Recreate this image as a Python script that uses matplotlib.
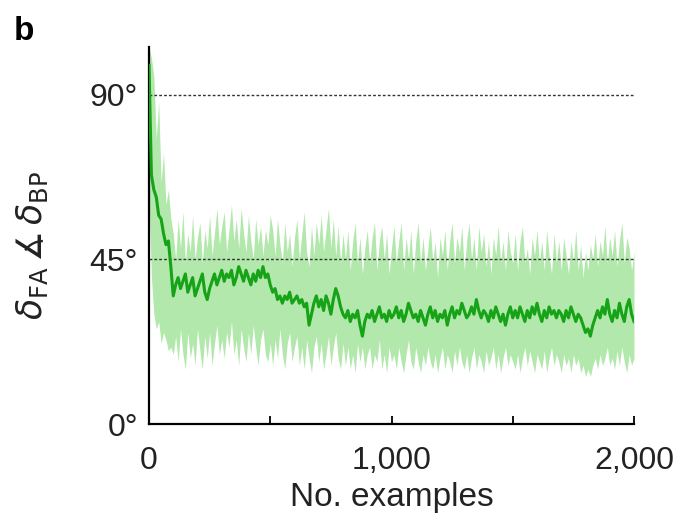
import numpy as np
import matplotlib
matplotlib.use("Agg")
import matplotlib.pyplot as plt

plt.rcParams['font.family'] = ['Liberation Sans', 'DejaVu Sans']

# Number of examples (step 10)
examples = list(range(0, 2001, 10))

# mean angle (degrees)
mean_angle = [
    98, 68, 64, 62, 57, 56, 52, 49, 50, 43, 35,
    38, 40, 37, 39, 41, 36, 38, 40, 35, 37,
    39, 41, 36, 34, 37, 39, 41, 38, 40, 42,
    39, 41, 40, 42, 38, 40, 43, 41, 39, 42,
    40, 38, 41, 39, 42, 40, 43, 40, 41, 38,
    36, 37, 34, 35, 33, 35, 34, 36, 33, 34,
    35, 33, 34, 32, 33, 27, 30, 33, 35, 32,
    34, 31, 35, 33, 30, 34, 37, 35, 32, 30,
    29, 31, 28, 30, 29, 31, 27, 24, 28, 30,
    29, 31, 28, 30, 32, 29, 30, 28, 31, 29,
    30, 32, 29, 31, 28, 30, 33, 31, 29, 30,
    28, 31, 29, 27, 30, 32, 29, 31, 28, 30,
    29, 31, 27, 30, 32, 29, 31, 30, 33, 31,
    29, 30, 32, 30, 34, 31, 29, 31, 30, 28,
    31, 29, 32, 30, 28, 30, 27, 30, 32, 29,
    31, 29, 32, 30, 28, 31, 29, 32, 30, 33,
    30, 28, 31, 29, 32, 30, 31, 29, 31, 30,
    28, 31, 29, 32, 30, 28, 30, 29, 27, 25,
    26, 24, 27, 29, 31, 29, 32, 30, 34, 30,
    28, 31, 29, 33, 30, 28, 32, 34, 30, 28,
]

upper_angle = [
    103, 100, 95, 78, 88, 66, 74, 60, 64, 56, 52,
    45, 56, 48, 58, 44, 52, 47, 57, 45, 51,
    55, 44, 53, 48, 57, 46, 52, 59, 49, 54,
    58, 47, 53, 60, 50, 56, 48, 59, 52, 47,
    57, 50, 45, 56, 49, 54, 46, 53, 49, 57,
    53, 46, 56, 49, 44, 55, 47, 52, 43, 51,
    56, 45, 52, 58, 47, 43, 54, 46, 55, 49,
    57, 47, 53, 59, 48, 56, 46, 54, 44, 52,
    45, 53, 42, 50, 55, 44, 51, 41, 48, 53,
    44, 51, 55, 42, 50, 54, 45, 52, 41, 48,
    54, 44, 50, 55, 42, 51, 45, 53, 41, 50,
    55, 44, 51, 42, 48, 54, 44, 50, 40, 51,
    46, 53, 42, 50, 55, 44, 51, 47, 54, 42,
    50, 55, 45, 51, 42, 54, 47, 52, 43, 50,
    41, 51, 46, 54, 44, 50, 42, 53, 47, 44,
    52, 42, 50, 54, 44, 48, 41, 51, 46, 53,
    44, 50, 42, 53, 46, 41, 52, 44, 50, 42,
    51, 46, 41, 50, 44, 53, 42, 49, 40, 47,
    42, 49, 45, 52, 43, 50, 46, 54, 44, 51,
    46, 53, 43, 50, 55, 44, 51, 48, 42, 47,
]

lower_angle = [
    62, 40, 30, 26, 28, 22, 25, 23, 20, 21, 19,
    24, 17, 26, 19, 15, 25, 18, 22, 16, 26,
    20, 15, 24, 18, 25, 16, 22, 27, 19, 23,
    18, 25, 21, 28, 19, 23, 16, 26, 21, 17,
    25, 19, 27, 21, 16, 23, 26, 19, 17, 22,
    16, 23, 18, 26, 19, 15, 22, 25, 17, 21,
    24, 16, 21, 15, 23, 18, 14, 21, 24, 17,
    22, 15, 19, 24, 16, 21, 25, 18, 15, 22,
    16, 21, 15, 19, 14, 22, 17, 21, 15, 19,
    21, 15, 19, 17, 23, 15, 19, 14, 21, 17,
    19, 15, 21, 17, 14, 19, 23, 17, 15, 21,
    17, 14, 19, 16, 21, 17, 15, 19, 14, 18,
    21, 15, 19, 17, 14, 20, 16, 21, 17, 15,
    19, 14, 18, 21, 15, 19, 17, 14, 20, 16,
    18, 21, 15, 19, 14, 18, 21, 16, 19, 17,
    15, 19, 14, 18, 21, 16, 20, 17, 14, 19,
    17, 15, 20, 14, 18, 21, 16, 19, 17, 14,
    19, 16, 18, 14, 19, 16, 18, 14, 16, 13,
    15, 13, 16, 18, 15, 19, 16, 18, 21, 16,
    18, 15, 20, 16, 21, 17, 14, 19, 16, 18,
]

ref_lines = [45, 90]
y_ticks = [0, 45, 90]
y_ticklabels = ['0°', '45°', '90°']
x_ticks = [0, 500, 1000, 1500, 2000]
x_ticklabels = ['0', '', '1,000', '', '2,000']

fig = plt.figure(figsize=(6.78, 5.21), dpi=100)
ax = fig.add_axes([149/678, (521-424)/521, (634-149)/678, (424-47)/521])

ax.fill_between(examples, lower_angle, upper_angle, color='#b2e8ac', lw=0, zorder=1)
for r in ref_lines:
    ax.axhline(r, color='#333333', lw=1.0, ls=(0, (2, 1.5)), zorder=2)
ax.plot(examples, mean_angle, color='#17a317', lw=2.2, zorder=3)

ax.set_xlim(0, 2000)
ax.set_ylim(0, 103)
for s in ['top', 'right']:
    ax.spines[s].set_visible(False)
for s in ['left', 'bottom']:
    ax.spines[s].set_linewidth(1.6)
    ax.spines[s].set_color('black')

ax.set_xticks(x_ticks)
ax.set_xticklabels(x_ticklabels, fontsize=23, color='#222222')
ax.set_yticks(y_ticks)
ax.set_yticklabels(y_ticklabels, fontsize=23, color='#222222')
ax.tick_params(axis='x', direction='in', length=6, width=1.3, pad=16)
ax.tick_params(axis='y', length=0, pad=8)

ax.set_xlabel('No. examples', fontsize=24, labelpad=4, color='#222222')
ax.set_ylabel(r'$\delta_{\mathrm{FA}}\,\measuredangle\,\delta_{\mathrm{BP}}$', fontsize=25, color='#222222')
ax.yaxis.set_label_coords((50-149)/485, (424-245)/377)

fig.text(14/678, 1 - 32/521, 'b', fontsize=24, fontweight='bold', ha='left', va='center')

fig.savefig('out.png', dpi=100)
